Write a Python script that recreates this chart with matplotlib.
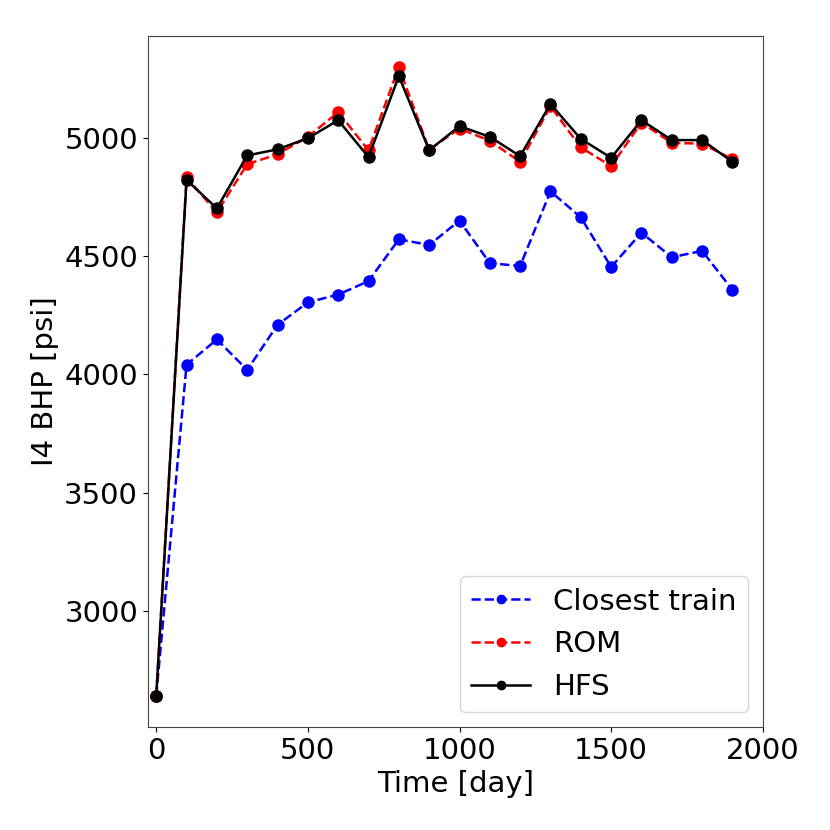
import matplotlib
matplotlib.use("Agg")
import matplotlib.pyplot as plt

time = [0, 100, 200, 300, 400, 500, 600, 700, 800, 900, 1000,
        1100, 1200, 1300, 1400, 1500, 1600, 1700, 1800, 1900]
closest_train = [2640, 4041, 4148, 4019, 4210, 4305, 4338, 4395, 4572, 4548, 4651,
                 4471, 4459, 4775, 4665, 4455, 4600, 4496, 4523, 4358]
rom = [2640, 4834, 4686, 4890, 4932, 5006, 5110, 4949, 5301, 4952, 5041,
       4989, 4900, 5135, 4961, 4882, 5066, 4980, 4977, 4911]
hfs = [2640, 4823, 4703, 4927, 4953, 5000, 5076, 4920, 5263, 4949, 5051,
       5006, 4924, 5145, 4997, 4917, 5076, 4992, 4992, 4900]
xticks = [0, 500, 1000, 1500, 2000]
yticks = [3000, 3500, 4000, 4500, 5000]

plt.rcParams['font.family'] = ['DejaVu Sans']
fs = 21

fig = plt.figure(figsize=(8.3, 8.3), dpi=100)
ax = fig.add_axes([0.178, 0.124, 0.741, 0.833])

ax.plot(time, closest_train, 'b--', marker='o', markersize=8, linewidth=1.8, label='Closest train')
ax.plot(time, rom, 'r--', marker='o', markersize=8, linewidth=1.8, label='ROM')
ax.plot(time, hfs, 'k-', marker='o', markersize=8, linewidth=1.8, label='HFS')

ax.set_xlim(-28, 2000)
ax.set_xticks(xticks)
ax.set_yticks(yticks)
ax.tick_params(labelsize=fs)
ax.set_xlabel('Time [day]', fontsize=fs)
ax.set_ylabel('I4 BHP [psi]', fontsize=fs)
ax.legend(loc='lower right', fontsize=fs, markerscale=0.75)
for s in ax.spines.values():
    s.set_color('#444444')

fig.savefig('out.png', dpi=100)
